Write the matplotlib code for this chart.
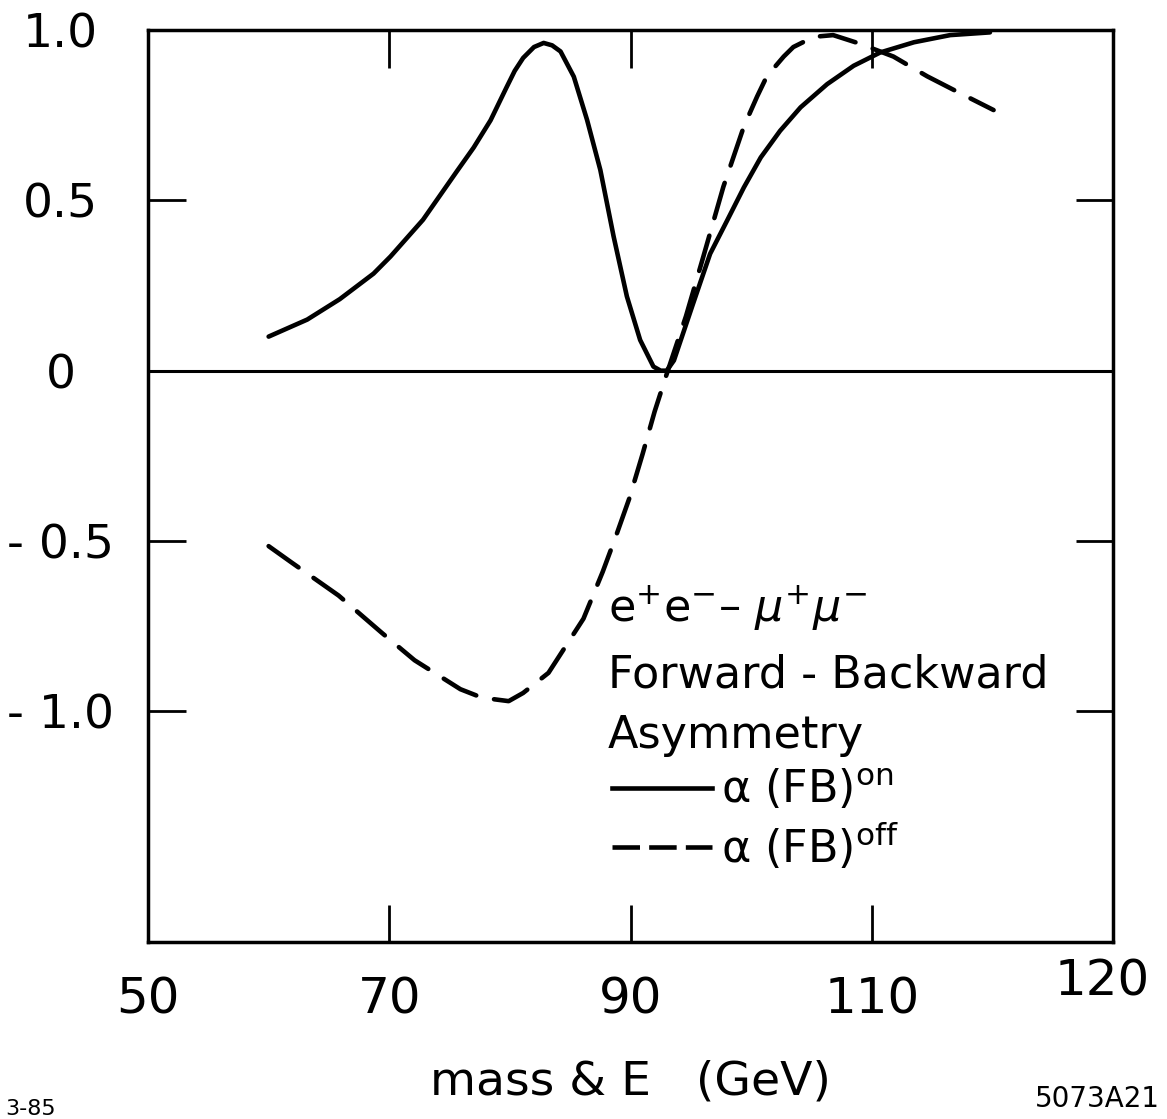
import matplotlib
matplotlib.use('Agg')
import matplotlib.pyplot as plt
from matplotlib.lines import Line2D

# Werte (Masse in GeV, Asymmetrie)
mass_on = [60.0, 63.2, 65.9, 68.7, 70.1, 72.8, 75.6, 77.0, 78.4, 79.7, 80.4, 81.1,
           82.0, 82.8, 83.5, 84.2, 85.3, 86.4, 87.5, 88.6, 89.7, 90.8,
           91.9, 92.5, 93.0, 93.6, 95.2, 96.6, 98.0, 99.4, 100.8, 102.4,
           104.1, 106.3, 108.5, 110.7, 113.5, 116.5, 119.8]
afb_on = [0.10, 0.15, 0.21, 0.285, 0.335, 0.443, 0.585, 0.655, 0.735, 0.83, 0.88, 0.918,
          0.95, 0.962, 0.955, 0.937, 0.863, 0.736, 0.589, 0.394, 0.218, 0.09,
          0.012, 0.0, 0.0, 0.03, 0.198, 0.343, 0.44, 0.538, 0.626, 0.704,
          0.773, 0.841, 0.895, 0.934, 0.964, 0.985, 0.993]

mass_off = [60.0, 61.9, 65.8, 69.4, 72.1, 75.9, 77.7, 79.9, 81.1, 83.2,
            86.1, 87.7, 88.8, 89.9, 91.0, 92.0, 93.0, 94.6, 96.0, 97.7, 99.4,
            100.5, 101.3, 102.7, 103.5, 105.2, 106.8, 109.0, 111.8, 114.6, 117.3,
            120.1]
afb_off = [-0.515, -0.563, -0.66, -0.77, -0.85, -0.935, -0.96, -0.97, -0.946, -0.887,
           -0.728, -0.59, -0.485, -0.375, -0.245, -0.12, -0.01, 0.16, 0.33, 0.54, 0.717,
           0.805, 0.864, 0.922, 0.95, 0.98, 0.985, 0.96, 0.922, 0.864, 0.815,
           0.765]

x_ticks = [50, 70, 90, 110, 130]
x_tick_labels = ['50', '70', '90', '110', '']
last_x_label = '120'
y_ticks = [1.0, 0.5, 0.0, -0.5, -1.0]
y_tick_labels = ['1.0', '0.5', '0', '- 0.5', '- 1.0']

title_lines = [r'e$^{+}$e$^{-}$– $\mu^{+}\mu^{-}$', 'Forward - Backward', 'Asymmetry']
legend_labels = [r'α (FB)$^{\mathrm{on}}$', r'α (FB)$^{\mathrm{off}}$']

W, H = 1167, 1119
plt.rcParams['font.family'] = ['DejaVu Sans']
plt.rcParams['mathtext.fontset'] = 'dejavusans'

fig = plt.figure(figsize=(W / 100, H / 100), dpi=100)
ax = fig.add_axes([148 / W, 1 - 942 / H, (1113 - 148) / W, (942 - 30) / H])

# Kurven
ax.plot(mass_on, afb_on, color='black', lw=3.3,
        solid_capstyle='round', solid_joinstyle='round')
ax.plot(mass_off, afb_off, color='black', lw=3.3, dashes=(8, 4),
        dash_capstyle='round', dash_joinstyle='round')
ax.axhline(0, color='black', lw=2.2)  # Nulllinie

ax.set_xlim(50, 130)
ax.set_ylim(-1.677, 1.0)

ax.set_xticks(x_ticks)
ax.set_xticklabels(x_tick_labels)
ax.set_yticks(y_ticks)
ax.set_yticklabels(y_tick_labels, ha='center')
ax.tick_params(direction='in', length=27, width=2, top=True, right=True, color='black')
ax.tick_params(axis='x', labelsize=36, pad=24)
ax.tick_params(axis='y', labelsize=34, pad=63)
for s in ax.spines.values():
    s.set_linewidth(2.5)

ax.set_xlabel('mass & E   (GeV)', fontsize=34)
ax.xaxis.set_label_coords(0.5, -0.129)

# Beschriftung im Plot
baselines = [622, 688, 748]
for txt, yb in zip(title_lines, baselines):
    fig.text(608 / W, 1 - yb / H, txt, fontsize=32, va='baseline', ha='left')

h_on = Line2D([], [], color='black', lw=3.3)
h_off = Line2D([], [], color='black', lw=3.3, dashes=(6, 2))
ax.legend([h_on, h_off], legend_labels, loc='upper left',
          bbox_to_anchor=(612 / W, 1 - 768 / H), bbox_transform=fig.transFigure,
          frameon=False, fontsize=32, borderpad=0, borderaxespad=0,
          handlelength=2.25, handletextpad=0.2, labelspacing=0.2)

fig.text(1102 / W, 1 - 958 / H, last_x_label, fontsize=36, ha='center', va='top')
fig.text(5 / W, 1 - 1115 / H, '3-85', fontsize=16, ha='left', va='baseline')
fig.text(1160 / W, 1 - 1107 / H, '5073A21', fontsize=20, ha='right', va='baseline')

fig.savefig('out.png', dpi=100, facecolor='white')
plt.close()
